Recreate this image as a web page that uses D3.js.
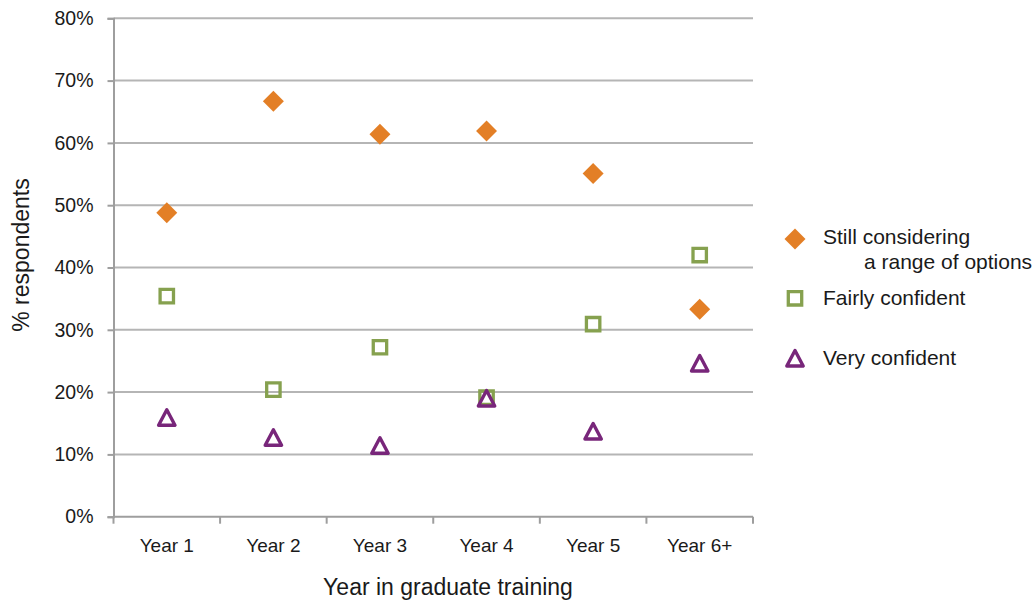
<!DOCTYPE html>
<html><head><meta charset="utf-8">
<script src="https://cdn.jsdelivr.net/npm/d3@7"></script>
<style>body{margin:0;background:#fff}svg{display:block}text{font-family:"Liberation Sans",Arial,sans-serif;fill:#1a1a1a}</style>
</head><body><svg id="c" width="1034" height="604"></svg>
<script>
const categories = ["Year 1","Year 2","Year 3","Year 4","Year 5","Year 6+"];
const stillConsidering = [48.8, 66.7, 61.4, 61.9, 55.1, 33.3];
const fairlyConfident = [35.4, 20.4, 27.2, 19.1, 30.9, 42.0];
const veryConfident = [15.8, 12.6, 11.3, 18.9, 13.6, 24.5];
const yTicks = [0,10,20,30,40,50,60,70,80];

const svg = d3.select("#c");
const L=113.5, R=753, T=18.3, B=516.7;
const x = d3.scaleBand().domain(categories).range([L,R]);
const y = d3.scaleLinear().domain([0,80]).range([B,T]);
const grid="#b5b5b5", axisC="#9e9e9e";

svg.append("g").selectAll("line").data(yTicks.filter(d=>d>0)).join("line")
 .attr("x1",L).attr("x2",R).attr("y1",d=>y(d)).attr("y2",d=>y(d))
 .attr("stroke",grid).attr("stroke-width",2);

const ya = svg.append("g").attr("transform",`translate(${L},0)`)
 .call(d3.axisLeft(y).tickValues(yTicks).tickFormat(d=>d+"%").tickSize(6).tickPadding(14));
ya.select(".domain").attr("stroke",axisC).attr("stroke-width",2);
ya.selectAll(".tick line").attr("stroke",axisC).attr("stroke-width",2);
ya.selectAll("text").style("font-size","19.5px").attr("fill","#1a1a1a");

const xa = svg.append("g").attr("transform",`translate(0,${B})`)
 .call(d3.axisBottom(x).tickSize(0).tickPadding(22));
xa.select(".domain").attr("stroke",axisC).attr("stroke-width",2).attr("d",`M${L},0H${R}`);
xa.selectAll("text").style("font-size","19px").attr("fill","#1a1a1a");
const bounds = d3.range(categories.length+1).map(i=>L+i*x.bandwidth());
xa.selectAll(".bt").data(bounds).join("line").attr("class","bt")
 .attr("x1",d=>d).attr("x2",d=>d).attr("y1",0).attr("y2",7).attr("stroke",axisC).attr("stroke-width",2);

svg.append("text").attr("x",448).attr("y",595).attr("text-anchor","middle").style("font-size","23px").text("Year in graduate training");
svg.append("text").attr("transform","translate(29,255) rotate(-90)").attr("text-anchor","middle").style("font-size","23px").text("% respondents");

const orange="#e37f26", green="#86a14f", purple="#78267a";
const diamond = d3.symbol().type(d3.symbolSquare).size(220);
const square = "M-6.7,-6.7H6.7V6.7H-6.7Z";
const tri = "M0,-8.5L8.2,7H-8.2Z";
const cx = d=>x(d)+x.bandwidth()/2;

function drawOrange(g){ g.append("path").attr("d",diamond).attr("transform","rotate(45)").attr("fill",orange); }
function drawGreen(g){ g.append("path").attr("d",square).attr("fill","none").attr("stroke",green).attr("stroke-width",3.3); }
function drawPurple(g){ g.append("path").attr("d",tri).attr("fill","none").attr("stroke",purple).attr("stroke-width",3.4).attr("stroke-linejoin","round"); }

const drawers=[drawGreen,drawOrange,drawPurple];
const data=[fairlyConfident,stillConsidering,veryConfident];
data.forEach((arr,si)=>{
  svg.append("g").selectAll("g").data(categories).join("g")
   .attr("transform",(c,i)=>`translate(${cx(c)},${y(arr[i])})`)
   .each(function(){ drawers[si](d3.select(this)); });
});

// legend
const lg = svg.append("g");
const items=[{f:drawOrange,y:239},{f:drawGreen,y:298.3},{f:drawPurple,y:359}];
items.forEach(it=>{
  const g=lg.append("g").attr("transform",`translate(795,${it.y})`);
  it.f(g);
});
lg.append("text").attr("x",823).attr("y",243.5).style("font-size","21px").text("Still considering");
lg.append("text").attr("x",864).attr("y",268.5).style("font-size","21px").text("a range of options");
lg.append("text").attr("x",823).attr("y",305).style("font-size","21px").text("Fairly confident");
lg.append("text").attr("x",823).attr("y",365).style("font-size","21px").text("Very confident");
</script></body></html>
